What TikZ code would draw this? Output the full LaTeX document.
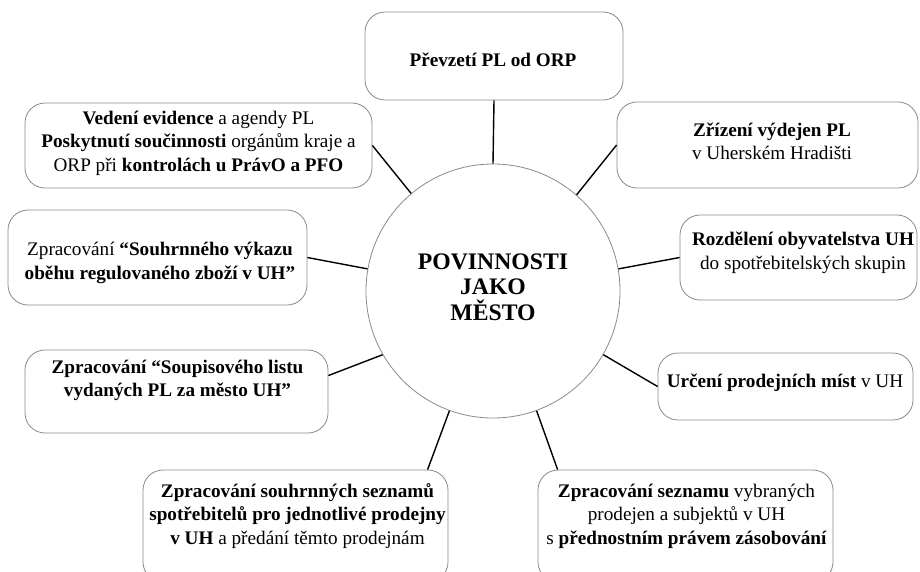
\documentclass[tikz,border=0pt]{standalone}
\usepackage{fontspec}
\setmainfont{Liberation Serif}
\usetikzlibrary{calc}
\definecolor{boxgray}{HTML}{8A8A8A}
\begin{document}
\begin{tikzpicture}[x=1pt,y=-1pt,
  box/.style={draw=boxgray, line width=0.8pt, rounded corners=20pt, inner sep=0pt, fill=white},
  hub/.style={circle, draw=boxgray, line width=0.8pt, inner sep=0pt, minimum size=254pt, fill=white},
  txt/.style={align=center, inner sep=0pt, font=\fontsize{19.2}{23.5}\selectfont},
  hubtxt/.style={align=center, inner sep=0pt, font=\fontsize{23.7}{25.5}\selectfont\bfseries},
  conn/.style={draw=black, line width=1.4pt}]
\useasboundingbox (0,0) rectangle (920,571);
\clip (0,0) rectangle (920,571);

% boxes
\node[box, minimum width=258pt, minimum height=88pt] (b1) at (494,56) {};
\node[box, minimum width=347pt, minimum height=85pt] (b2) at (198.5,145.5) {};
\node[box, minimum width=299pt, minimum height=95pt] (b3) at (157.5,257.5) {};
\node[box, minimum width=303pt, minimum height=83pt] (b4) at (176.5,391.5) {};
\node[box, minimum width=305pt, minimum height=112pt] (b5) at (295.5,526) {};
\node[box, minimum width=295pt, minimum height=112pt] (b6) at (685.5,526) {};
\node[box, minimum width=255pt, minimum height=67pt] (b7) at (785.5,386.5) {};
\node[box, minimum width=237pt, minimum height=85pt] (b8) at (798.5,257.5) {};
\node[box, minimum width=301pt, minimum height=86pt] (b9) at (767.5,145) {};
\node[hub] (c) at (493,291) {};

% connectors
\draw[conn] (b1.south) -- (c.90);
\draw[conn] (b2.east) -- (c.130);
\draw[conn] (b3.east) -- (c.170);
\draw[conn] (b4.6) -- (c.210);
\draw[conn] ($(b5.north west)+(285,0)$) -- (c.250);
\draw[conn] ($(b6.north west)+(20,0)$) -- (c.290);
\draw[conn] (b7.west) -- (c.330);
\draw[conn] (b8.west) -- (c.10);
\draw[conn] (b9.west) -- (c.49);

% texts
\node[hubtxt] (ct) at (493,287) {POVINNOSTI\\JAKO\\MĚSTO};
\node[txt] (t1) at (493,60) {\textbf{Převzetí PL od ORP}};
\node[txt] (t2) at (198.5,143) {\textbf{Vedení evidence} a agendy PL\\\textbf{Poskytnutí součinnosti} orgánům kraje a\\ORP při \textbf{kontrolách u PrávO a PFO}};
\node[txt] (t3) at (160,263) {Zpracování \textbf{“Souhrnného výkazu}\\\textbf{oběhu regulovaného zboží v UH”}};
\node[txt] (t4) at (177.5,380.5) {\textbf{Zpracování “Soupisového listu}\\\textbf{vydaných PL za město UH”}};
\node[txt] (t5) at (297.5,516) {\textbf{Zpracování souhrnných seznamů}\\\textbf{spotřebitelů pro jednotlivé prodejny}\\\textbf{v UH} a předání těmto prodejnám};
\node[txt] (t6) at (686.5,516) {\textbf{Zpracování seznamu} vybraných\\prodejen a subjektů v UH\\s \textbf{přednostním právem zásobování}};
\node[txt] (t7) at (785,383) {\textbf{Určení prodejních míst} v UH};
\node[txt] (t8) at (803,253) {\textbf{Rozdělení obyvatelstva UH}\\do spotřebitelských skupin};
\node[txt] (t9) at (772,141.5) {\textbf{Zřízení výdejen PL}\\v Uherském Hradišti};
\end{tikzpicture}
\end{document}
